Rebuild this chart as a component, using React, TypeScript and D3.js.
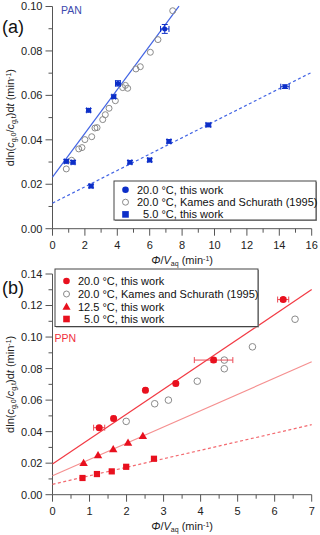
import React, { useEffect, useRef } from "react";
import * as d3 from "d3";

// ---- panel (a): PAN ----
const panX20 = [0.85, 1.27, 2.23, 3.78, 4.04, 6.93];
const panY20 = [0.0303, 0.0299, 0.0533, 0.0594, 0.0654, 0.0899];
const panXErr20 = [0.12, 0.12, 0.12, 0.12, 0.15, 0.26];
const panYErr20 = [0.0008, 0.0008, 0.0008, 0.0008, 0.0012, 0.002];

const panXKames = [0.85, 1.18, 1.62, 1.82, 2.0, 2.42, 2.62, 2.75, 3.1, 3.26, 3.49, 3.88, 4.33, 4.5, 4.64, 5.15, 5.42, 6.04, 6.51, 7.42];
const panYKames = [0.0269, 0.0308, 0.0359, 0.0365, 0.0401, 0.0414, 0.0453, 0.0455, 0.0491, 0.0513, 0.0542, 0.0576, 0.0635, 0.0645, 0.0632, 0.0719, 0.0729, 0.0794, 0.0851, 0.0981];

const panX5 = [2.38, 4.78, 6.0, 7.19, 9.62, 14.35];
const panY5 = [0.0192, 0.0299, 0.0309, 0.0393, 0.0467, 0.0639];
const panXErr5 = [0.12, 0.12, 0.12, 0.12, 0.15, 0.26];
const panYErr5 = [0.0008, 0.0008, 0.0008, 0.0008, 0.0008, 0.0008];

// fitted lines [intercept, slope, xEnd]
const panFit20 = [0.0232, 0.00986, 7.81];
const panFit5 = [0.0115, 0.00368, 16];

const panXTicks = [0, 2, 4, 6, 8, 10, 12, 14, 16];
const panYTicks = [0, 0.02, 0.04, 0.06, 0.08, 0.1];

// ---- panel (b): PPN ----
const ppnX20 = [1.26, 1.65, 2.51, 3.33, 4.35, 6.23];
const ppnY20 = [0.0425, 0.0484, 0.0663, 0.0706, 0.0854, 0.1238];
const ppnXErr20 = [0.15, 0.05, 0.05, 0.05, 0.52, 0.15];
const ppnYErr20 = [0.001, 0.001, 0.001, 0.001, 0.0015, 0.0012];

const ppnXKames = [1.99, 2.76, 3.13, 3.91, 4.64, 4.64, 5.4, 6.55];
const ppnYKames = [0.0465, 0.0577, 0.06, 0.072, 0.0854, 0.0799, 0.0938, 0.1113];

const ppnX125 = [0.84, 1.23, 1.64, 2.04, 2.44];
const ppnY125 = [0.0201, 0.025, 0.0288, 0.033, 0.0372];

const ppnX5 = [0.81, 1.2, 1.6, 1.99, 2.74];
const ppnY5 = [0.0106, 0.0131, 0.0148, 0.0177, 0.0228];

const ppnFit20 = [0.0195, 0.0158, 7];
const ppnFit125 = [0.012, 0.01033, 7];
const ppnFit5 = [0.0066, 0.0054, 7];

const ppnXTicks = [0, 1, 2, 3, 4, 5, 6, 7];
const ppnYTicks = [0, 0.02, 0.04, 0.06, 0.08, 0.1, 0.12, 0.14];

const legendA = ["20.0 °C, this work", "20.0 °C, Kames and Schurath (1995)", "\u00a0\u00a05.0 °C, this work"];
const legendB = ["20.0 °C, this work", "20.0 °C, Kames and Schurath (1995)", "12.5 °C, this work", "\u00a0\u00a05.0 °C, this work"];

const FONT = "'Liberation Sans', Arial, sans-serif";
const AXIS = "#555";
const BLUE = "#0c2ec8";
const BLUE_LINE = "#4264e4";
const RED = "#e8101e";
const RED_LINE = "#f23a44";
const RED_LIGHT = "#f59090";
const RED_DASH = "#f36a70";
const RED_ERR = "#ec4a55";
const GRAY = "#8a8a8a";

function zip(xs, ys) {
  return xs.map((x, i) => ({ x, y: ys[i], i }));
}

function drawAxes(g, x, y, xTicks, yTicks, xMinor, yMinor, fmtY) {
  const [x0, x1] = x.range();
  const [y0, y1] = y.range();
  const ax = g.append("g").attr("stroke", AXIS).attr("stroke-width", 1);
  ax.append("line").attr("x1", x0).attr("x2", x0).attr("y1", y0).attr("y2", y1);
  ax.append("line").attr("x1", x0).attr("x2", x1).attr("y1", y0).attr("y2", y0);

  ax.selectAll(".ymaj").data(yTicks).enter().append("line")
    .attr("x1", x0 - 7).attr("x2", x0).attr("y1", (d) => y(d)).attr("y2", (d) => y(d));
  ax.selectAll(".ymin").data(yMinor).enter().append("line")
    .attr("x1", x0 - 4).attr("x2", x0).attr("y1", (d) => y(d)).attr("y2", (d) => y(d));
  ax.selectAll(".xmaj").data(xTicks).enter().append("line")
    .attr("x1", (d) => x(d)).attr("x2", (d) => x(d)).attr("y1", y0).attr("y2", y0 + 7);
  ax.selectAll(".xmin").data(xMinor).enter().append("line")
    .attr("x1", (d) => x(d)).attr("x2", (d) => x(d)).attr("y1", y0).attr("y2", y0 + 4);

  const lbl = g.append("g").attr("font-family", FONT).attr("font-size", 11).attr("fill", "#222");
  lbl.selectAll(".yl").data(yTicks).enter().append("text")
    .attr("x", x0 - 10).attr("y", (d) => y(d)).attr("dy", "0.36em")
    .attr("text-anchor", "end").text(fmtY);
  lbl.selectAll(".xl").data(xTicks).enter().append("text")
    .attr("x", (d) => x(d)).attr("y", y0 + 20.5)
    .attr("text-anchor", "middle").text((d) => d);

  // x title  Φ/V_aq (min^-1)
  const xt = lbl.append("text").attr("x", (x0 + x1) / 2).attr("y", y0 + 35).attr("text-anchor", "middle");
  xt.append("tspan").attr("font-style", "italic").text("Φ");
  xt.append("tspan").text("/");
  xt.append("tspan").attr("font-style", "italic").text("V");
  xt.append("tspan").attr("font-size", 7).attr("baseline-shift", "-25%").text("aq");
  xt.append("tspan").text(" (min");
  xt.append("tspan").attr("font-size", 7).attr("baseline-shift", "45%").text("-1");
  xt.append("tspan").text(")");

  // y title  dln(c_g,0/c_g,t)dt (min^-1)
  const yt = lbl.append("text")
    .attr("transform", `translate(14,${(y0 + y1) / 2}) rotate(-90)`)
    .attr("text-anchor", "middle");
  yt.append("tspan").text("dln(");
  yt.append("tspan").attr("font-style", "italic").text("c");
  yt.append("tspan").attr("font-size", 7).attr("baseline-shift", "-25%").text("g,0");
  yt.append("tspan").text("/");
  yt.append("tspan").attr("font-style", "italic").text("c");
  yt.append("tspan").attr("font-size", 7).attr("baseline-shift", "-25%").text("g,t");
  yt.append("tspan").text(")d");
  yt.append("tspan").attr("font-style", "italic").text("t");
  yt.append("tspan").text(" (min");
  yt.append("tspan").attr("font-size", 7).attr("baseline-shift", "45%").text("-1");
  yt.append("tspan").text(")");
}

function fitLine(g, x, y, fit, color, dash) {
  const [b, m, xEnd] = fit;
  const line = d3.line().x((d) => x(d)).y((d) => y(b + m * d));
  g.append("path").attr("d", line([0, xEnd])).attr("fill", "none")
    .attr("stroke", color).attr("stroke-width", 1.2)
    .attr("stroke-dasharray", dash ? "3,2.5" : null);
}

function errorBars(g, x, y, pts, xErr, yErr, color) {
  const eb = g.append("g").attr("stroke", color).attr("stroke-width", 1);
  pts.forEach((p) => {
    const ex = xErr[p.i];
    const ey = yErr[p.i];
    const cx = x(p.x);
    const cy = y(p.y);
    eb.append("line").attr("x1", x(p.x - ex)).attr("x2", x(p.x + ex)).attr("y1", cy).attr("y2", cy);
    eb.append("line").attr("x1", x(p.x - ex)).attr("x2", x(p.x - ex)).attr("y1", cy - 3).attr("y2", cy + 3);
    eb.append("line").attr("x1", x(p.x + ex)).attr("x2", x(p.x + ex)).attr("y1", cy - 3).attr("y2", cy + 3);
    eb.append("line").attr("x1", cx).attr("x2", cx).attr("y1", y(p.y - ey)).attr("y2", y(p.y + ey));
    eb.append("line").attr("x1", cx - 3).attr("x2", cx + 3).attr("y1", y(p.y - ey)).attr("y2", y(p.y - ey));
    eb.append("line").attr("x1", cx - 3).attr("x2", cx + 3).attr("y1", y(p.y + ey)).attr("y2", y(p.y + ey));
  });
}

function marker(g, kind, cx, cy, r, color) {
  if (kind === "circle") {
    g.append("circle").attr("cx", cx).attr("cy", cy).attr("r", r).attr("fill", color);
  } else if (kind === "open") {
    g.append("circle").attr("cx", cx).attr("cy", cy).attr("r", r - 0.3)
      .attr("fill", "none").attr("stroke", GRAY).attr("stroke-width", 1);
  } else if (kind === "square") {
    g.append("rect").attr("x", cx - r).attr("y", cy - r).attr("width", 2 * r).attr("height", 2 * r).attr("fill", color);
  } else {
    const sym = d3.symbol(d3.symbolTriangle, r * r * 3.2)();
    g.append("path").attr("d", sym).attr("transform", `translate(${cx},${cy + 0.6})`).attr("fill", color);
  }
}

function legend(g, x0, y0, w, h, rows, kinds, color, rowY) {
  const lg = g.append("g");
  lg.append("rect").attr("x", x0 + 1).attr("y", y0 + 1).attr("width", w).attr("height", h).attr("fill", "#999");
  lg.append("rect").attr("x", x0).attr("y", y0).attr("width", w).attr("height", h)
    .attr("fill", "white").attr("stroke", "#444").attr("stroke-width", 1);
  rows.forEach((t, i) => {
    const yy = y0 + rowY[i];
    marker(lg, kinds[i], x0 + 11.5, yy, kinds[i] === "triangle" ? 3 : 3.3, color);
    lg.append("text").attr("x", x0 + 23).attr("y", yy).attr("dy", "0.36em")
      .attr("font-family", FONT).attr("font-size", 11).attr("fill", "#111").text(t);
  });
}

function drawPanelA(svg) {
  const x = d3.scaleLinear([0, 16], [52.5, 311.7]);
  const y = d3.scaleLinear([0, 0.1], [228.7, 6.5]);
  const g = svg.append("g");
  drawAxes(g, x, y, panXTicks, panYTicks, d3.range(1, 16, 2), d3.range(0.01, 0.1, 0.02), d3.format(".2f"));

  fitLine(g, x, y, panFit20, BLUE_LINE, false);
  fitLine(g, x, y, panFit5, BLUE_LINE, true);

  const kames = zip(panXKames, panYKames);
  kames.forEach((p) => marker(g, "open", x(p.x), y(p.y), 3.3, GRAY));

  const p5 = zip(panX5, panY5);
  errorBars(g, x, y, p5, panXErr5, panYErr5, BLUE);
  p5.forEach((p) => marker(g, "square", x(p.x), y(p.y), 2.3, BLUE));

  const p20 = zip(panX20, panY20);
  errorBars(g, x, y, p20, panXErr20, panYErr20, BLUE);
  p20.forEach((p) => marker(g, "circle", x(p.x), y(p.y), 2.5, BLUE));

  legend(g, 114, 181, 202, 39, legendA, ["circle", "open", "square"], BLUE, [8.7, 21.2, 33.4]);

  g.append("text").attr("x", 2).attr("y", 33).attr("font-family", FONT).attr("font-size", 18).attr("fill", "#111").text("(a)");
  g.append("text").attr("x", 61).attr("y", 14).attr("font-family", FONT).attr("font-size", 10.5).attr("fill", "#3d4aae").text("PAN");
}

function drawPanelB(svg) {
  const x = d3.scaleLinear([0, 7], [52.5, 311.7]);
  const y = d3.scaleLinear([0, 0.14], [494.7, 274]);
  const g = svg.append("g");
  drawAxes(g, x, y, ppnXTicks, ppnYTicks, d3.range(0.5, 7, 1), d3.range(0.01, 0.14, 0.02), d3.format(".2f"));

  fitLine(g, x, y, ppnFit20, RED_LINE, false);
  fitLine(g, x, y, ppnFit125, RED_LIGHT, false);
  fitLine(g, x, y, ppnFit5, RED_DASH, true);

  zip(ppnXKames, ppnYKames).forEach((p) => marker(g, "open", x(p.x), y(p.y), 3.6, GRAY));

  zip(ppnX5, ppnY5).forEach((p) => marker(g, "square", x(p.x), y(p.y), 3.1, RED));
  zip(ppnX125, ppnY125).forEach((p) => marker(g, "triangle", x(p.x), y(p.y), 3.1, RED));

  const p20 = zip(ppnX20, ppnY20);
  errorBars(g, x, y, p20, ppnXErr20, ppnYErr20, RED_ERR);
  p20.forEach((p) => marker(g, "circle", x(p.x), y(p.y), 3.5, RED));

  legend(g, 55, 269, 203, 57.5, legendB, ["circle", "open", "triangle", "square"], RED, [12, 25, 37.7, 50]);

  g.append("text").attr("x", 2).attr("y", 294).attr("font-family", FONT).attr("font-size", 18).attr("fill", "#111").text("(b)");
  g.append("text").attr("x", 54.5).attr("y", 341.5).attr("font-family", FONT).attr("font-size", 10.5).attr("fill", "#f0303c").text("PPN");
}

export default function App() {
  const ref = useRef(null);
  useEffect(() => {
    const svg = d3.select(ref.current);
    svg.selectAll("*").remove();
    drawPanelA(svg);
    drawPanelB(svg);
  });
  return (
    <svg
      ref={ref}
      width={320}
      height={535}
      style={{ position: "absolute", left: 0, top: 0, background: "white" }}
    />
  );
}
